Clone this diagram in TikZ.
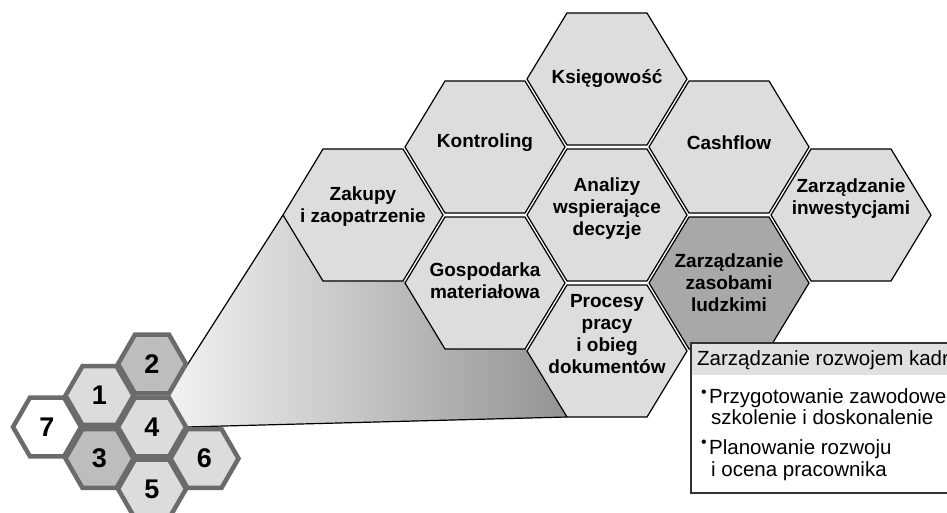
\documentclass[tikz,border=0pt]{standalone}
\usepackage{fontspec}
\setmainfont{Liberation Sans}
\usetikzlibrary{shapes.geometric,backgrounds}

\definecolor{hexfill}{HTML}{DDDDDD}
\definecolor{hexdark}{HTML}{A8A8A8}
\definecolor{celllight}{HTML}{DCDCDC}
\definecolor{cellmid}{HTML}{BDBDBD}
\definecolor{cellborder}{HTML}{6B6B6B}
\definecolor{funnelleft}{HTML}{F2F2F2}
\definecolor{funnelright}{HTML}{939393}
\definecolor{headfill}{HTML}{E0E0E0}
\definecolor{boxborder}{HTML}{333333}

\begin{document}
\begin{tikzpicture}[
    x=1pt, y=-1pt,
    hexline/.style={draw=black, line width=1.2pt},
    hexlabel/.style={align=center, inner sep=0pt,
      font=\bfseries\fontsize{19}{22}\selectfont},
    pics/bighex/.style n args={3}{code={
        \filldraw[hexline, fill=#1] (-80,0) -- (-40,66) -- (40,66) -- (80,0)
          -- (40,-66) -- (-40,-66) -- cycle;
        \coordinate (-w) at (-80,0);
        \coordinate (-sw) at (-40,66);
        \coordinate (-se) at (40,66);
        \node[hexlabel] (-label) at (0,#2) {#3};
    }},
    cell/.style={regular polygon, regular polygon sides=6, minimum size=68pt,
      inner sep=0pt, outer sep=0pt, draw=cellborder, line width=4.5pt,
      font=\bfseries\fontsize{27}{27}\selectfont},
    funnelline/.style={draw=black, line width=1.2pt},
    boxtext/.style={anchor=base west, inner sep=0pt,
      font=\fontsize{20.5}{24}\selectfont},
    bulletmark/.style={inner sep=0pt, font=\fontsize{16}{16}\selectfont},
  ]
    \useasboundingbox (0,0) rectangle (947,513);
    \clip (0,0) rectangle (947,513);

    \pic (ksieg) at (607,79) {bighex={hexfill}{0}{Księgowość}};
    \pic (kontr) at (485,147) {bighex={hexfill}{-4}{Kontroling}};
    \pic (cash) at (729,147) {bighex={hexfill}{-4}{Cashflow}};
    \pic (zak) at (363,215) {bighex={hexfill}{-8}{Zakupy\\i zaopatrzenie}};
    \pic (anal) at (607,215) {bighex={hexfill}{-6}{Analizy\\wspierające\\decyzje}};
    \pic (inw) at (851,215) {bighex={hexfill}{-16}{Zarządzanie\\inwestycjami}};
    \pic (gosp) at (485,283) {bighex={hexfill}{-2}{Gospodarka\\materiałowa}};
    \pic (zas) at (729,283) {bighex={hexdark}{0}{Zarządzanie\\zasobami\\ludzkimi}};
    \pic (proc) at (607,351) {bighex={hexfill}{-17}{Procesy\\pracy\\i obieg\\dokumentów}};

    \node[cell, fill=white] (h7) at (47,427) {7};
    \node[cell, fill=celllight] (h1) at (99.5,395.5) {1};
    \node[cell, fill=cellmid] (h3) at (99.5,458.5) {3};
    \node[cell, fill=cellmid] (h2) at (152,364) {2};
    \node[cell, fill=celllight] (h4) at (152,427) {4};
    \node[cell, fill=celllight] (h5) at (152,489) {5};
    \node[cell, fill=celllight] (h6) at (204.5,458.5) {6};

    \begin{scope}[on background layer]
      \fill[left color=funnelleft, right color=funnelright]
        (h2.300) -- (zak-w) -- (zak-sw) -- (zak-se) -- (gosp-w) -- (gosp-sw)
        -- (gosp-se) -- (proc-w) -- (proc-sw) -- (h4.0) -- cycle;
      \draw[funnelline] (h2.300) -- (zak-w);
      \draw[funnelline] (h4.0) -- (proc-sw);
    \end{scope}

    \fill[white] (691,343) rectangle (961,493);
    \fill[headfill] (691,343) rectangle (961,375);
    \draw[boxborder, line width=1.5pt] (691,343) rectangle (961,493);
    \node[boxtext] (head) at (697,365) {Zarządzanie rozwojem kadr};
    \node[bulletmark] (dot1) at (704,394) {•};
    \node[boxtext] (item1a) at (709,403) {Przygotowanie zawodowe};
    \node[boxtext] (item1b) at (711,424) {szkolenie i doskonalenie};
    \node[bulletmark] (dot2) at (704,444) {•};
    \node[boxtext] (item2a) at (709,454) {Planowanie rozwoju};
    \node[boxtext] (item2b) at (711,476) {i ocena pracownika};
\end{tikzpicture}
\end{document}
